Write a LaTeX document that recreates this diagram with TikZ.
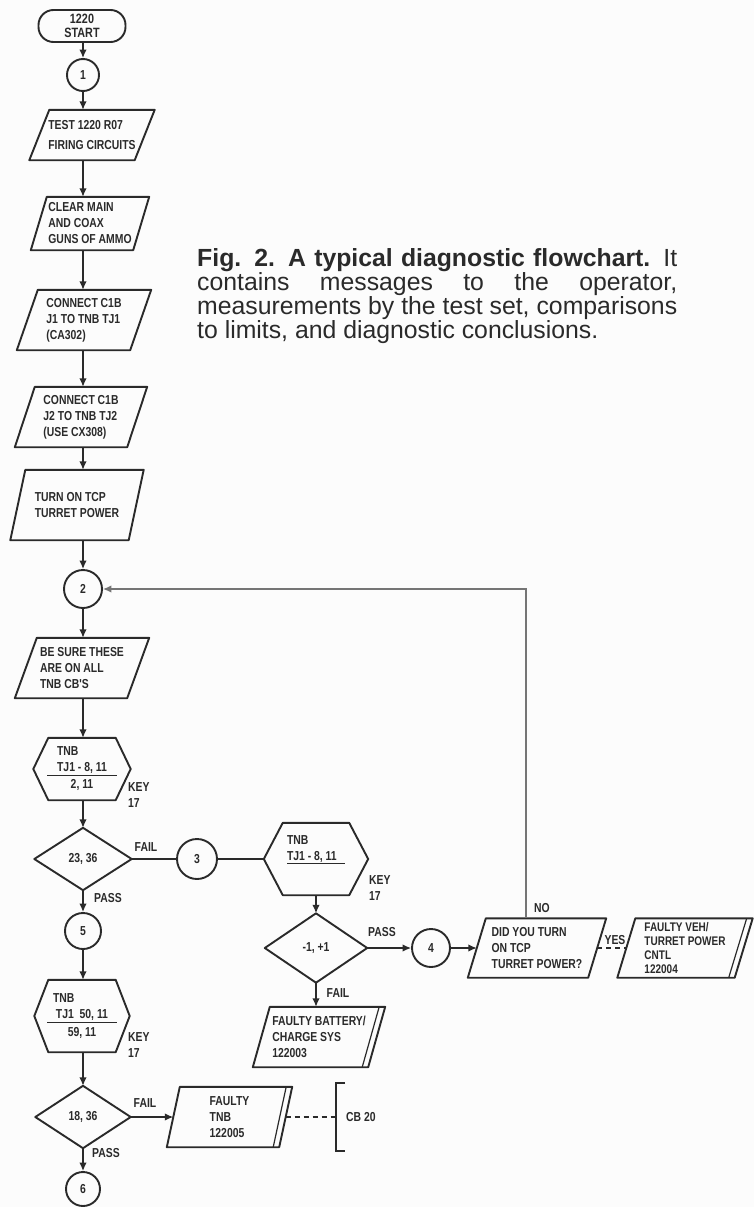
\documentclass[tikz,border=0pt]{standalone}
\usepackage{fontspec}
\setmainfont{Liberation Sans}
\newfontfamily\chartfont[FakeStretch=0.8]{Liberation Sans}
\usetikzlibrary{arrows.meta,calc}

\definecolor{ink}{HTML}{2A2A2A}
\definecolor{paper}{HTML}{FCFCFC}

\tikzset{
  chart/.style={font=\chartfont\bfseries\fontsize{13}{16}\selectfont, text=ink},
  box/.style={chart, rectangle, inner sep=0pt, align=left},
  outline/.style={draw=ink, line width=1.9pt, line join=round},
  term/.style={chart, rectangle, draw=ink, line width=1.9pt, rounded corners=15pt,
    inner sep=0pt, align=center, minimum width=87pt, minimum height=32pt,
    font=\chartfont\bfseries\fontsize{13.5}{14}\selectfont},
  conn circle/.style={chart, circle, draw=ink, line width=1.9pt, inner sep=0pt},
  conn/.style={draw=ink, line width=1.4pt},
  arr/.style={conn, -{Latex[length=8.5pt,width=7.5pt]}},
  loopline/.style={draw=ink!65, line width=1.4pt, -{Latex[length=8.5pt,width=7.5pt]}},
  lbl/.style={chart, inner sep=0pt, align=left},
  capt/.style={font=\fontsize{24.8}{22.4}\selectfont, text=ink, inner sep=0pt, align=left}
}

% parallelogram (input/output) drawn round an invisible node
\newcommand\drawio[2]{%
  \draw[outline] ([xshift=#2pt]#1.north west) -- ([xshift=#2pt]#1.north east)
    -- ([xshift=-#2pt]#1.south east) -- ([xshift=-#2pt]#1.south west) -- cycle;}
% conclusion box: parallelogram with a doubled right edge
\newcommand\drawend[2]{%
  \drawio{#1}{#2}%
  \draw[draw=ink, line width=1.2pt] ([xshift=#2pt-6pt]#1.north east) -- ([xshift=-#2pt-6pt]#1.south east);}
% measurement hexagon
\newcommand\drawhex[2]{%
  \draw[outline] ([xshift=#2pt]#1.north west) -- ([xshift=-#2pt]#1.north east) -- (#1.east)
    -- ([xshift=-#2pt]#1.south east) -- ([xshift=#2pt]#1.south west) -- (#1.west) -- cycle;}
% decision diamond
\newcommand\drawdecision[1]{%
  \draw[outline] (#1.north) -- (#1.east) -- (#1.south) -- (#1.west) -- cycle;}

\begin{document}
\begin{tikzpicture}[x=1pt, y=-1pt]
\path[use as bounding box, fill=paper] (0,0) rectangle (754,1207);

% ---------- caption ----------
\node[capt, anchor=north west] (caption) at (197,248) {%
  \makebox[480pt][s]{\textbf{Fig. 2. A typical diagnostic flowchart.} It}\\
  \makebox[480pt][s]{contains messages to the operator,}\\
  \makebox[480pt][s]{measurements by the test set, comparisons}\\
  to limits, and diagnostic conclusions.};

% ---------- left column ----------
\node[term] (start) at (82,26) {1220\\START};
\node[conn circle, minimum size=32pt] (c1) at (83,75) {1};

\node[box, minimum width=105pt, minimum height=50pt] (test) at (92,135)
  {TEST 1220 R07\\[4pt]FIRING CIRCUITS};
\drawio{test}{10}
\node[box, minimum width=102pt, minimum height=53pt] (clear) at (90,223.5)
  {CLEAR MAIN\\AND COAX\\GUNS OF AMMO};
\drawio{clear}{8}
\node[box, minimum width=113pt, minimum height=60pt] (j1) at (84,320)
  {CONNECT C1B\\J1 TO TNB TJ1\\(CA302)};
\drawio{j1}{10.5}
\node[box, minimum width=112pt, minimum height=60pt] (j2) at (81,417)
  {CONNECT C1B\\J2 TO TNB TJ2\\(USE CX308)};
\drawio{j2}{10}
\node[box, minimum width=118pt, minimum height=70pt] (turn) at (77,505)
  {TURN ON TCP\\TURRET POWER};
\drawio{turn}{7.5}

\node[conn circle, minimum size=38pt] (c2) at (83,589) {2};

\node[box, minimum width=112pt, minimum height=60pt] (besure) at (82,668)
  {BE SURE THESE\\ARE ON ALL\\TNB CB'S};
\drawio{besure}{11}

\node[box, align=center, minimum width=97pt, minimum height=62pt] (hex1) at (82,769)
  {\makebox[70pt][l]{\hspace{10pt}TNB}\\
   \underline{\makebox[70pt]{TJ1 - 8, 11}}\\[1pt]2, 11};
\drawhex{hex1}{15}
\node[lbl, anchor=west] (key1) at (128,795) {KEY\\17};

\node[box, align=center, minimum width=97pt, minimum height=62pt] (d1) at (83,859) {23, 36};
\drawdecision{d1}
\node[lbl] (fail1) at (146,847) {FAIL};
\node[lbl] (pass1) at (108,898) {PASS};

\node[conn circle, minimum size=36pt] (c5) at (83,931) {5};

\node[box, align=center, minimum width=95pt, minimum height=72pt] (hex2) at (82,1016)
  {\makebox[70pt][l]{\hspace{6pt}TNB}\\
   \underline{\makebox[70pt]{TJ1 \ 50, 11}}\\[2pt]59, 11};
\drawhex{hex2}{14}
\node[lbl, anchor=west] (key2) at (128,1045) {KEY\\17};

\node[box, align=center, minimum width=95pt, minimum height=62pt] (d2) at (83,1117) {18, 36};
\drawdecision{d2}
\node[lbl] (fail2) at (145,1103) {FAIL};
\node[lbl] (pass2) at (106,1153) {PASS};

\node[conn circle, minimum size=34pt] (c6) at (83,1189) {6};

% ---------- middle column ----------
\node[conn circle, minimum size=40pt] (c3) at (197,859) {3};

\node[box, align=center, minimum width=104pt, minimum height=72pt] (hex3) at (316,859)
  {\makebox[58pt][l]{TNB}\\ \underline{\makebox[58pt][l]{TJ1 - 8, 11}}\\[2pt]\strut};
\drawhex{hex3}{19}
\node[lbl, anchor=west] (key3) at (369,888) {KEY\\17};

\node[box, align=center, minimum width=102pt, minimum height=69pt] (d3) at (316,948) {-1, +1};
\drawdecision{d3}
\node[lbl] (pass3) at (382,932) {PASS};
\node[lbl] (fail3) at (338,993) {FAIL};

\node[box, minimum width=115pt, minimum height=60pt] (fbat) at (319,1037)
  {FAULTY BATTERY/\\CHARGE SYS\\122003};
\drawend{fbat}{8.5}

\node[box, minimum width=112pt, minimum height=60pt] (ftnb) at (229.5,1117)
  {FAULTY\\TNB\\122005};
\drawend{ftnb}{6.5}

\coordinate (brk) at (336,1117);
\coordinate (brktop) at (336,1083);
\coordinate (brkbot) at (336,1151);
\draw[conn] ([xshift=9pt]brktop) -- (brktop) -- (brkbot) -- ([xshift=9pt]brkbot);
\node[lbl, anchor=west] (cb) at (346,1117) {CB 20};

% ---------- right column ----------
\node[conn circle, minimum size=38pt] (c4) at (431,948) {4};

\node[box, minimum width=120pt, minimum height=59pt] (didyou) at (537,948)
  {DID YOU TURN\\ON TCP\\TURRET POWER?};
\drawio{didyou}{9}

\node[box, minimum width=117pt, minimum height=59pt,
      font=\chartfont\bfseries\fontsize{12.5}{14}\selectfont] (fveh) at (685,948)
  {FAULTY VEH/\\TURRET POWER\\CNTL\\122004};
\drawend{fveh}{9}

\node[lbl] (no) at (542,908) {NO};
\node[lbl] (yes) at (615,940) {YES};

% ---------- connectors ----------
\draw[arr] (c1 |- start.south) -- (c1.north);
\draw[arr] (c1.south) -- (c1 |- test.north);
\draw[arr] (c1 |- test.south) -- (c1 |- clear.north);
\draw[arr] (c1 |- clear.south) -- (c1 |- j1.north);
\draw[arr] (c1 |- j1.south) -- (c1 |- j2.north);
\draw[arr] (c1 |- j2.south) -- (c1 |- turn.north);
\draw[arr] (c1 |- turn.south) -- (c2.north);
\draw[arr] (c2.south) -- (c2 |- besure.north);
\draw[arr] (c2 |- besure.south) -- (c2 |- hex1.north);
\draw[arr] (c2 |- hex1.south) -- (d1.north);
\draw[arr] (d1.south) -- (c5.north);
\draw[arr] (c5.south) -- (c5 |- hex2.north);
\draw[arr] (c5 |- hex2.south) -- (d2.north);
\draw[arr] (d2.south) -- (c6.north);
\draw[arr] (d2.east) -- (ftnb.west);
\draw[conn, dashed, dash pattern=on 5pt off 4pt] (ftnb.east) -- (brk);

\draw[conn] (d1.east) -- (c3.west);
\draw[conn] (c3.east) -- (hex3.west);
\draw[arr] (hex3.south) -- (d3.north);
\draw[arr] (d3.east) -- (c4.west);
\draw[arr] (d3.south) -- (d3.south |- fbat.north);
\draw[arr] (c4.east) -- (didyou.west);
\draw[conn, dashed, dash pattern=on 5pt off 4pt] (didyou.east) -- (fveh.west);

\coordinate (loopcorner) at (526,589);
\draw[loopline] (loopcorner |- didyou.north) -- (loopcorner) -- (c2.east);
\end{tikzpicture}
\end{document}
